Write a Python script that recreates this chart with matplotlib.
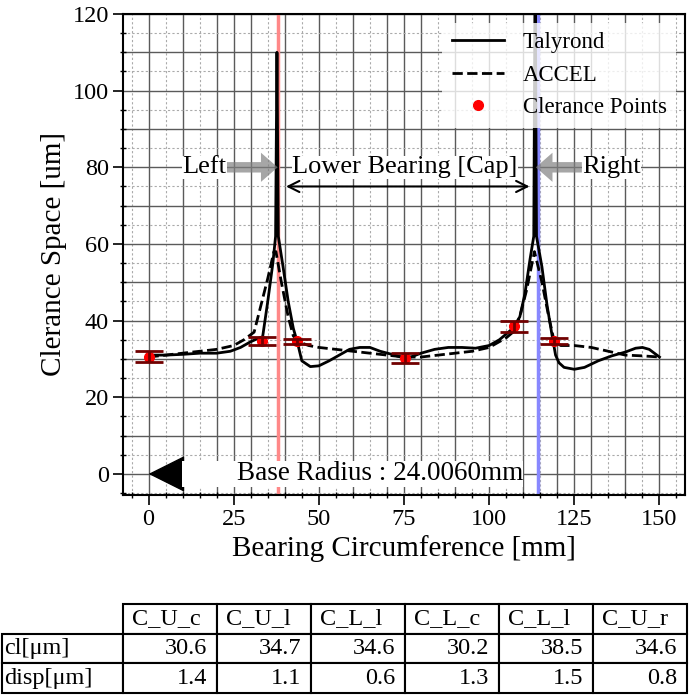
import matplotlib
matplotlib.use('Agg')
import matplotlib.pyplot as plt
from matplotlib.ticker import MultipleLocator

plt.rcParams['font.family'] = ['Liberation Serif', 'DejaVu Serif']

# Talyrond trace (solid)
tal_x = [0, 5, 10, 15, 20, 24, 27, 30, 32, 33.5, 35, 36.5, 37.3, 37.7, 38.1, 39.5, 41,
         42.5, 43.8, 45, 47.5, 50, 53, 56, 59, 62, 65, 68, 71, 74, 77, 80, 84, 88, 92,
         96, 100, 103, 105, 107, 109, 110.5, 112, 113.1, 113.5, 113.9, 115.5, 117, 118.5,
         119.5, 120.5, 122, 125, 128, 132, 136, 140, 143, 145, 147, 150]
tal_y = [31.0, 31.0, 31.2, 31.5, 31.5, 32.0, 33.0, 34.5, 35.3, 35.8, 45, 55, 62, 110, 62,
         54, 45, 38, 34, 29.5, 28, 28.2, 29.5, 31, 32.5, 33, 33, 32, 31.3, 30.5, 30.5,
         31.5, 32.5, 33, 33, 32.8, 33.5, 35, 36.5, 38, 41, 47, 56, 62, 135, 62, 54, 44,
         36, 31, 29, 27.8, 27.3, 27.8, 29.5, 30.8, 31.8, 32.8, 33, 32.5, 30.5]

# ACCEL trace (dashed)
acc_x = [0, 5, 10, 15, 20, 25, 28, 31, 33, 35, 36.8, 37.4, 39, 41, 42.5, 44, 47, 50, 55,
         60, 65, 70, 75, 80, 85, 90, 95, 100, 103, 105, 107, 109, 111, 113.3, 115.5,
         117.5, 119, 121, 125, 130, 135, 140, 145, 150]
acc_y = [30.5, 31, 31.5, 32, 32.5, 33.5, 35, 37, 44, 51, 58, 58, 50, 41, 36, 34.5, 33.5,
         33, 32.5, 32, 31.5, 31, 30.5, 30.5, 31, 31.5, 32, 33, 34.5, 35.5, 37, 41, 48,
         58, 50, 41, 35, 33.5, 33.5, 33, 32, 31, 30.8, 30.5]

# clearance points
pt_x = [0, 33.3, 43.7, 75.4, 107.4, 119.0]
pt_cl = [30.6, 34.7, 34.6, 30.2, 38.5, 34.6]
pt_disp = [1.4, 1.1, 0.6, 1.3, 1.5, 0.8]
pt_names = ['C_U_c', 'C_U_l', 'C_L_l', 'C_L_c', 'C_L_l', 'C_U_r']
row_names = ['cl[μm]', 'disp[μm]']

left_mark = 37.9
right_mark = 114.3

fig = plt.figure(figsize=(6.89, 7.0), dpi=100)
ax = fig.add_axes([123 / 689, 1 - 495 / 700, 562 / 689, 481 / 700])

# grid: solid every 10 (and major x ticks), dotted every 5
for v in range(-5, 160, 5):
    if v % 10 == 0 or v % 25 == 0:
        ax.axvline(v, color='#5a5a5a', lw=1.0, zorder=0)
    else:
        ax.axvline(v, color='#aaaaaa', lw=0.8, ls=(0, (2, 2)), zorder=0)
for v in range(-5, 125, 5):
    if v % 10 == 0:
        ax.axhline(v, color='#5a5a5a', lw=1.0, zorder=0)
    else:
        ax.axhline(v, color='#aaaaaa', lw=0.8, ls=(0, (2, 2)), zorder=0)

ax.axvline(left_mark, color='#ff8888', lw=2.5, zorder=1)
ax.axvline(right_mark, color='#8888ff', lw=2.5, zorder=1)

ax.plot(tal_x, tal_y, 'k-', lw=2, label='Talyrond', zorder=3)
ax.plot(acc_x, acc_y, 'k--', lw=2, label='ACCEL', zorder=3)
ax.plot(pt_x, pt_cl, 'o', color='red', ms=7, label='Clerance Points', zorder=4)
ax.errorbar(pt_x, pt_cl, yerr=pt_disp, fmt='none', ecolor='#700000', elinewidth=2,
            capsize=10, capthick=2, zorder=5)

# annotations
ax.annotate('Left', xy=(left_mark, 80), xytext=(16.4, 80), fontsize=19,
            ha='center', va='center', zorder=6,
            bbox=dict(fc='white', ec='none', pad=0.1),
            arrowprops=dict(arrowstyle='simple,head_length=0.8,head_width=1.4,tail_width=0.5',
                            fc='gray', ec='none', alpha=0.7, mutation_scale=15,
                            shrinkA=0, shrinkB=0))
ax.annotate('Right', xy=(right_mark - 0.6, 80), xytext=(135.9, 80), fontsize=19,
            ha='center', va='center', zorder=6,
            bbox=dict(fc='white', ec='none', pad=0.1),
            arrowprops=dict(arrowstyle='simple,head_length=0.8,head_width=1.4,tail_width=0.5',
                            fc='gray', ec='none', alpha=0.7, mutation_scale=15,
                            shrinkA=0, shrinkB=0))
ax.text(75.3, 80, 'Lower Bearing [Cap]', fontsize=19, ha='center', va='center',
        zorder=6, bbox=dict(fc='white', ec='none', pad=0.1))
ax.annotate('', xy=(left_mark, 75), xytext=(right_mark, 75), zorder=6,
            arrowprops=dict(arrowstyle='<->', lw=1.5, color='k', shrinkA=6, shrinkB=6,
                            mutation_scale=20))
ax.annotate('        Base Radius : 24.0060mm', xy=(0, 0), xytext=(10, 0), fontsize=19.5,
            ha='left', va='center', zorder=6,
            bbox=dict(fc='white', ec='none', pad=0.15),
            arrowprops=dict(arrowstyle='-|>,head_length=1.2,head_width=0.6', color='k',
                            mutation_scale=20, shrinkA=0, shrinkB=0))

ax.set_xlim(-7.5, 157.5)
ax.set_ylim(-5.5, 120)
ax.set_xticks(range(0, 151, 25))
ax.set_yticks(range(0, 121, 20))
ax.xaxis.set_minor_locator(MultipleLocator(5))
ax.yaxis.set_minor_locator(MultipleLocator(5))
ax.tick_params(which='major', direction='out', length=7, width=1.2, labelsize=17.5, pad=3)
ax.tick_params(which='minor', direction='inout', length=5, width=1.0)
for s in ax.spines.values():
    s.set_linewidth(1.5)
ax.set_xlabel('Bearing Circumference [mm]', fontsize=21)
ax.set_ylabel('Clerance Space [um]', fontsize=21)

ax.legend(loc='upper right', fontsize=16.5, framealpha=0.8, edgecolor='none',
          fancybox=False, handlelength=2.3, borderaxespad=0.4)

# table
tax = fig.add_axes([2 / 689, 1 - 693 / 700, 685 / 689, 89 / 700])
tax.axis('off')
cell_text = [[row_names[0]] + ['%.1f' % v for v in pt_cl],
             [row_names[1]] + ['%.1f' % v for v in pt_disp]]
widths = [121] + [94] * len(pt_names)
tbl = tax.table(cellText=cell_text, colLabels=[''] + pt_names,
                colWidths=[w / sum(widths) for w in widths],
                cellLoc='right', colLoc='left', bbox=[0, 0, 1, 1])
tbl.auto_set_font_size(False)
for (r, c), cell in tbl.get_celld().items():
    cell.set_linewidth(1.5)
    cell.get_text().set_fontsize(17.5)
    if c == 0:
        cell.get_text().set_ha('left')
        cell.PAD = 0.02
    if r == 0 and c == 0:
        cell.visible_edges = ''

fig.savefig('out.png', dpi=100)
